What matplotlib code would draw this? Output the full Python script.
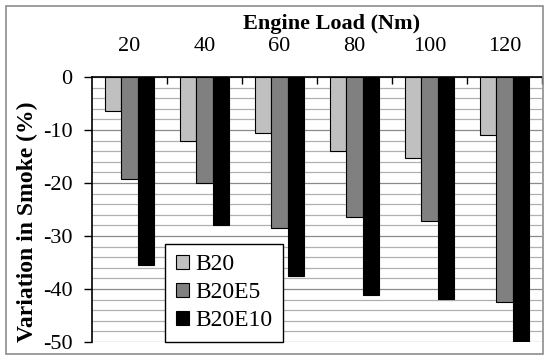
import matplotlib.pyplot as plt
import numpy as np
from matplotlib.patches import Rectangle

# datos
cargas = ['20', '40', '60', '80', '100', '120']
b20 = [-6.4, -12.0, -10.5, -14.0, -15.2, -11.0]
b20e5 = [-19.3, -20.0, -28.5, -26.5, -27.2, -42.5]
b20e10 = [-35.4, -28.0, -37.5, -41.2, -41.8, -50.0]
series = ['B20', 'B20E5', 'B20E10']
colores = ['#c0c0c0', '#808080', '#000000']

plt.rcParams['font.family'] = ['Liberation Serif', 'DejaVu Serif']
plt.rcParams['axes.unicode_minus'] = False

fig = plt.figure(figsize=(5.5, 3.61), dpi=100)
ax = fig.add_axes([92/550, 19/361, 450/550, 265/361])

# marco exterior de la figura
fig.patches.append(Rectangle((6/550, 7/361), 537/550, 348/361, transform=fig.transFigure,
                             fill=False, edgecolor='#8c8c8c', linewidth=1.2))

x = np.arange(len(cargas))
ancho = 0.217
for k, (datos, color, nombre) in enumerate(zip([b20, b20e5, b20e10], colores, series)):
    ax.bar(x + (k - 1) * ancho, datos, ancho, color=color, edgecolor='black',
           linewidth=0.8, label=nombre, zorder=3)

ax.set_xlim(-0.5, len(cargas) - 0.5)
ax.set_ylim(-50, 0)

# rejilla horizontal
for v in np.arange(-50, 1, 2):
    c = '#8a8a8a' if v % 10 == 0 else '#b0b0b0'
    ax.axhline(v, color=c, linewidth=0.9, zorder=1)

ax.set_yticks(np.arange(-50, 1, 10))
ax.tick_params(axis='y', direction='out', length=6, width=1, labelsize=16, pad=8, colors='black')

ax.xaxis.tick_top()
ax.set_xticks(x)
ax.set_xticklabels(cargas)
ax.set_xticks(np.arange(0.5, len(cargas), 1), minor=True)
ax.tick_params(axis='x', which='major', length=0, labelsize=16, pad=15)
ax.tick_params(axis='x', which='minor', direction='in', length=5, width=1)
ax.xaxis.set_label_position('top')
ax.set_xlabel('Engine Load (Nm)', fontsize=16, fontweight='bold')
ax.xaxis.set_label_coords(0.533, 1.181)
ax.set_ylabel('Variation in Smoke (%)', fontsize=17, fontweight='bold')
ax.yaxis.set_label_coords(-0.12, 0.455)

ax.spines['bottom'].set_visible(False)
ax.spines['right'].set_visible(False)
ax.spines['top'].set_linewidth(1.2)
ax.spines['left'].set_linewidth(1.2)

leg = ax.legend(loc='lower left', bbox_to_anchor=(0.162, 0.0), borderaxespad=0,
                fontsize=17, fancybox=False, framealpha=1, edgecolor='black',
                handlelength=0.55, handleheight=0.55, handletextpad=0.3,
                labelspacing=0.3, borderpad=0.45)
leg.get_frame().set_linewidth(1)
leg.set_zorder(5)

plt.savefig('out.png', dpi=100)
